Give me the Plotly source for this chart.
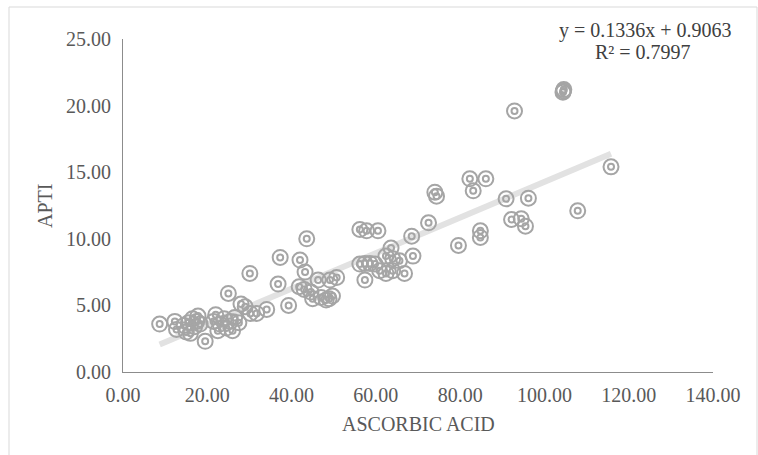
import plotly.graph_objects as go

# Data
ascorbic_acid = [
    8.7, 12.3, 12.7, 14.5, 15.0, 15.5, 16.0, 16.5, 17.0, 17.5, 17.8, 18.3, 19.5,
    21.5, 22.0, 22.5, 23.0, 24.0, 24.5, 25.0, 25.5, 26.0, 26.5, 27.5, 28.0, 29.0,
    30.1, 30.2, 31.7, 34.1, 36.8, 37.3, 39.3, 42.0, 41.8, 43.0, 43.2, 43.6, 44.6,
    45.0, 46.3, 47.0, 48.2, 48.9, 49.1, 49.7, 50.7, 56.2, 57.8, 60.5, 56.2, 57.4,
    58.6, 59.8, 57.4, 63.6, 62.4, 64.0, 65.6, 60.9, 62.4, 64.0, 66.8, 68.8, 68.5,
    72.5, 74.0, 74.4, 79.6, 82.3, 83.1, 86.1, 84.8, 84.8, 90.9, 92.2, 92.9, 94.5,
    95.5, 96.2, 104.4, 104.5, 104.6, 107.9, 115.8,
]
apti = [
    3.6, 3.8, 3.2, 3.5, 3.0, 3.7, 2.9, 4.0, 3.4, 3.8, 4.2, 3.6, 2.3,
    3.8, 4.3, 3.1, 3.6, 4.0, 3.3, 5.9, 3.8, 3.1, 4.1, 3.7, 5.1, 4.9,
    7.4, 4.4, 4.4, 4.7, 6.6, 8.6, 5.0, 8.4, 6.4, 6.2, 7.5, 10.0, 6.0,
    5.5, 6.9, 5.6, 5.4, 5.5, 6.9, 5.7, 7.1, 10.7, 10.6, 10.6, 8.1, 8.15,
    8.15, 8.1, 6.9, 9.3, 8.7, 8.5, 8.35, 7.6, 7.4, 7.6, 7.4, 8.7, 10.2,
    11.2, 13.5, 13.2, 9.5, 14.5, 13.6, 14.5, 10.6, 10.1, 13.0, 11.45, 19.6, 11.5,
    10.95, 13.05, 21.0, 21.1, 21.2, 12.1, 15.4,
]
slope = 0.1336
intercept = 0.9063
r_squared = 0.7997

x_ticks = [0, 20, 40, 60, 80, 100, 120, 140]
y_ticks = [0, 5, 10, 15, 20, 25]

FONT = "Liberation Serif, Times New Roman, serif"
GRAY_TEXT = "#595959"
MARKER = "#A5A5A5"

x_min, x_max = min(ascorbic_acid), max(ascorbic_acid)
trend_x = [x_min, x_max]
trend_y = [slope * v + intercept for v in trend_x]

fig = go.Figure()
fig.add_trace(go.Scatter(
    x=trend_x, y=trend_y, mode="lines",
    line=dict(color="#E2E2E2", width=6), hoverinfo="skip", showlegend=False,
))
fig.add_trace(go.Scatter(
    x=ascorbic_acid, y=apti, mode="markers",
    marker=dict(symbol="circle-open", size=15, color=MARKER, line=dict(color=MARKER, width=2)),
    showlegend=False,
))
fig.add_trace(go.Scatter(
    x=ascorbic_acid, y=apti, mode="markers",
    marker=dict(symbol="circle-open", size=6, color=MARKER, line=dict(color=MARKER, width=2)),
    showlegend=False,
))

axis_common = dict(
    showgrid=False, zeroline=False, showline=True, linecolor="#8C8C8C", linewidth=1,
    ticks="", tickfont=dict(family=FONT, size=20, color=GRAY_TEXT),
    tickformat=".2f",
)
fig.update_xaxes(range=[0, 140], tickvals=x_ticks, ticklabelstandoff=5, **axis_common)
fig.update_yaxes(range=[0, 25], tickvals=y_ticks, ticklabelstandoff=7, **axis_common)

L, R, T, B = 123, 45, 39, 83
W, H = 758, 455
pw, ph = W - L - R, H - T - B

def px_x(px):
    return (px - L) / pw

def px_y(py):
    return (H - B - py) / ph

fig.update_layout(
    width=W, height=H,
    margin=dict(l=L, r=R, t=T, b=B),
    plot_bgcolor="white", paper_bgcolor="white",
    font=dict(family=FONT, color=GRAY_TEXT),
    shapes=[dict(
        type="rect", xref="paper", yref="paper",
        x0=px_x(9), x1=px_x(757), y0=px_y(460), y1=px_y(7),
        line=dict(color="#D9D9D9", width=1), layer="below",
    )],
    annotations=[
        dict(text=f"y = {slope}x + {intercept}", xref="paper", yref="paper",
             x=px_x(645), y=px_y(30), showarrow=False, xanchor="center", yanchor="middle",
             font=dict(family=FONT, size=20, color="#404040")),
        dict(text=f"R² = {r_squared}", xref="paper", yref="paper",
             x=px_x(643), y=px_y(52), showarrow=False, xanchor="center", yanchor="middle",
             font=dict(family=FONT, size=20, color="#404040")),
        dict(text="ASCORBIC ACID", xref="paper", yref="paper",
             x=px_x(418), y=px_y(424), showarrow=False, xanchor="center", yanchor="middle",
             font=dict(family=FONT, size=20, color=GRAY_TEXT)),
        dict(text="APTI", xref="paper", yref="paper", textangle=-90,
             x=px_x(45), y=px_y(206), showarrow=False, xanchor="center", yanchor="middle",
             font=dict(family=FONT, size=20, color=GRAY_TEXT)),
    ],
)

fig.write_html(
    "out.html",
    config={"displayModeBar": False},
    post_script="document.body.style.margin='0';document.body.style.overflow='hidden';",
)
